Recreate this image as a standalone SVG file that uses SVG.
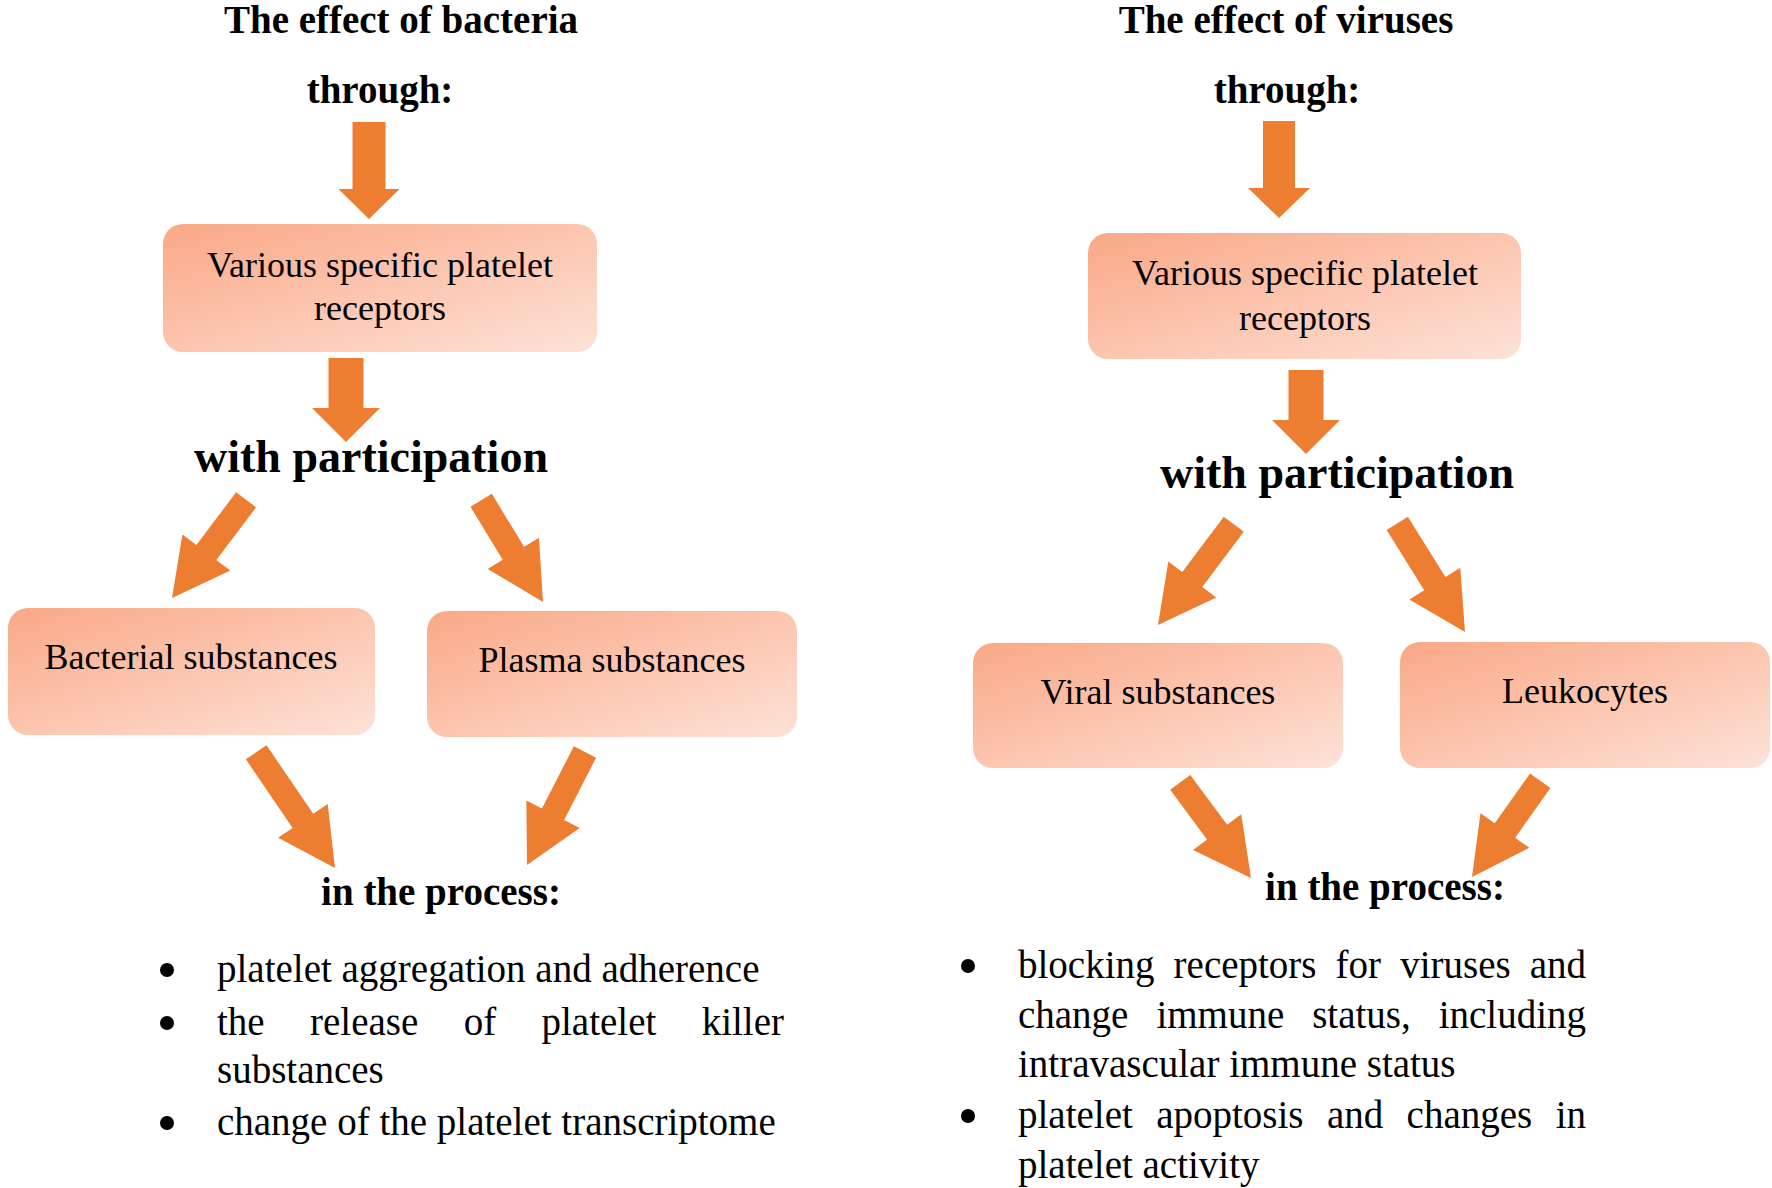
<svg xmlns="http://www.w3.org/2000/svg" width="1772" height="1188" viewBox="0 0 1772 1188">
<defs>
<linearGradient id="boxFill" x1="0" y1="0" x2="1" y2="1">
<stop offset="0" stop-color="#F9A886"/>
<stop offset="0.5" stop-color="#FCC5AF"/>
<stop offset="1" stop-color="#FDE2D7"/>
</linearGradient>
<style>
.box{fill:url(#boxFill);}
.arrow{fill:#ED7D31;}
.t{font-family:"Liberation Serif","Times New Roman",serif;fill:#000;}
.title{font-size:39px;font-weight:bold;text-anchor:middle;}
.big{font-size:46px;font-weight:bold;text-anchor:middle;}
.bx{font-size:36px;text-anchor:middle;}
.li{font-size:39px;}
.e{text-anchor:end;}
.bul{fill:#000;}
</style>
</defs>
<rect width="1772" height="1188" fill="#fff"/>

<g id="labels">
<text class="t title" x="401" y="33">The effect of bacteria</text>
<text class="t title" x="1286" y="33">The effect of viruses</text>
<text class="t title" x="380" y="103">through:</text>
<text class="t title" x="1287" y="103">through:</text>
<text class="t big" x="371" y="472">with participation</text>
<text class="t big" x="1337" y="488">with participation</text>
<text class="t title" x="441" y="905">in the process:</text>
<text class="t title" x="1385" y="900">in the process:</text>
</g>

<g id="connectors">
<polygon class="arrow" transform="translate(369,219)" points="-16.5,-97 16.5,-97 16.5,-30 30.5,-30 0,0 -30.5,-30 -16.5,-30"/>
<polygon class="arrow" transform="translate(346,442)" points="-17.5,-84 17.5,-84 17.5,-34 34,-34 0,0 -34,-34 -17.5,-34"/>
<polygon class="arrow" transform="translate(1279,218)" points="-16,-97 16,-97 16,-30 31,-30 0,0 -31,-30 -16,-30"/>
<polygon class="arrow" transform="translate(1306,454)" points="-17.5,-84 17.5,-84 17.5,-34 34,-34 0,0 -34,-34 -17.5,-34"/>
<polygon class="arrow" transform="translate(172,598) rotate(37.05)" points="-12.5,-123 12.5,-123 12.5,-57 30,-57 0,0 -30,-57 -12.5,-57"/>
<polygon class="arrow" transform="translate(543,602) rotate(-31.3)" points="-12.5,-119 12.5,-119 12.5,-57 30,-57 0,0 -30,-57 -12.5,-57"/>
<polygon class="arrow" transform="translate(1158,625) rotate(36.96)" points="-12.5,-126 12.5,-126 12.5,-57 30,-57 0,0 -30,-57 -12.5,-57"/>
<polygon class="arrow" transform="translate(1465,632) rotate(-31.96)" points="-12.5,-128 12.5,-128 12.5,-57 30,-57 0,0 -30,-57 -12.5,-57"/>
<polygon class="arrow" transform="translate(335,868) rotate(-34.26)" points="-12.5,-140 12.5,-140 12.5,-57 30,-57 0,0 -30,-57 -12.5,-57"/>
<polygon class="arrow" transform="translate(527,865) rotate(27.17)" points="-12.5,-127 12.5,-127 12.5,-57 30,-57 0,0 -30,-57 -12.5,-57"/>
<polygon class="arrow" transform="translate(1251,878) rotate(-36.49)" points="-12.5,-119 12.5,-119 12.5,-57 30,-57 0,0 -30,-57 -12.5,-57"/>
<polygon class="arrow" transform="translate(1472,877) rotate(35.31)" points="-12.5,-118 12.5,-118 12.5,-57 30,-57 0,0 -30,-57 -12.5,-57"/>
</g>

<g id="node-receptors-bacteria">
<rect class="box" x="163" y="224" width="434" height="128" rx="20"/>
<text class="t bx" x="380" y="277">Various specific platelet</text>
<text class="t bx" x="380" y="320">receptors</text>
</g>
<g id="node-receptors-viruses">
<rect class="box" x="1088" y="233" width="433" height="126" rx="20"/>
<text class="t bx" x="1305" y="285">Various specific platelet</text>
<text class="t bx" x="1305" y="330">receptors</text>
</g>
<g id="node-bacterial-substances">
<rect class="box" x="8" y="608" width="367" height="127" rx="20"/>
<text class="t bx" x="191" y="669">Bacterial substances</text>
</g>
<g id="node-plasma-substances">
<rect class="box" x="427" y="611" width="370" height="126" rx="20"/>
<text class="t bx" x="612" y="672">Plasma substances</text>
</g>
<g id="node-viral-substances">
<rect class="box" x="973" y="643" width="370" height="125" rx="20"/>
<text class="t bx" x="1158" y="704">Viral substances</text>
</g>
<g id="node-leukocytes">
<rect class="box" x="1400" y="642" width="370" height="126" rx="20"/>
<text class="t bx" x="1585" y="703">Leukocytes</text>
</g>

<g id="list-bacteria">
<circle class="bul" cx="167" cy="970" r="7"/>
<circle class="bul" cx="167" cy="1023" r="7"/>
<circle class="bul" cx="167" cy="1123" r="7"/>
<text class="t li" x="217" y="982">platelet aggregation and adherence</text>
<text class="t li" y="1035"><tspan x="217">the</tspan><tspan x="310">release</tspan><tspan x="463.7">of</tspan><tspan x="541.5">platelet</tspan></text>
<text class="t li e" x="784" y="1035">killer</text>
<text class="t li" x="217" y="1083">substances</text>
<text class="t li" x="217" y="1135">change of the platelet transcriptome</text>
</g>

<g id="list-viruses">
<circle class="bul" cx="968" cy="966" r="7"/>
<circle class="bul" cx="968" cy="1116" r="7"/>
<text class="t li" y="978"><tspan x="1018">blocking</tspan><tspan x="1173.6">receptors</tspan><tspan x="1335.6">for</tspan><tspan x="1400.2">viruses</tspan></text>
<text class="t li e" x="1586" y="978">and</text>
<text class="t li" y="1028"><tspan x="1018">change</tspan><tspan x="1156.4">immune</tspan><tspan x="1312.2">status,</tspan></text>
<text class="t li e" x="1586" y="1028">including</text>
<text class="t li" x="1018" y="1077">intravascular immune status</text>
<text class="t li" y="1128"><tspan x="1018">platelet</tspan><tspan x="1156.2">apoptosis</tspan><tspan x="1326.9">and</tspan><tspan x="1406.6">changes</tspan></text>
<text class="t li e" x="1586" y="1128">in</text>
<text class="t li" x="1018" y="1178">platelet activity</text>
</g>
</svg>
